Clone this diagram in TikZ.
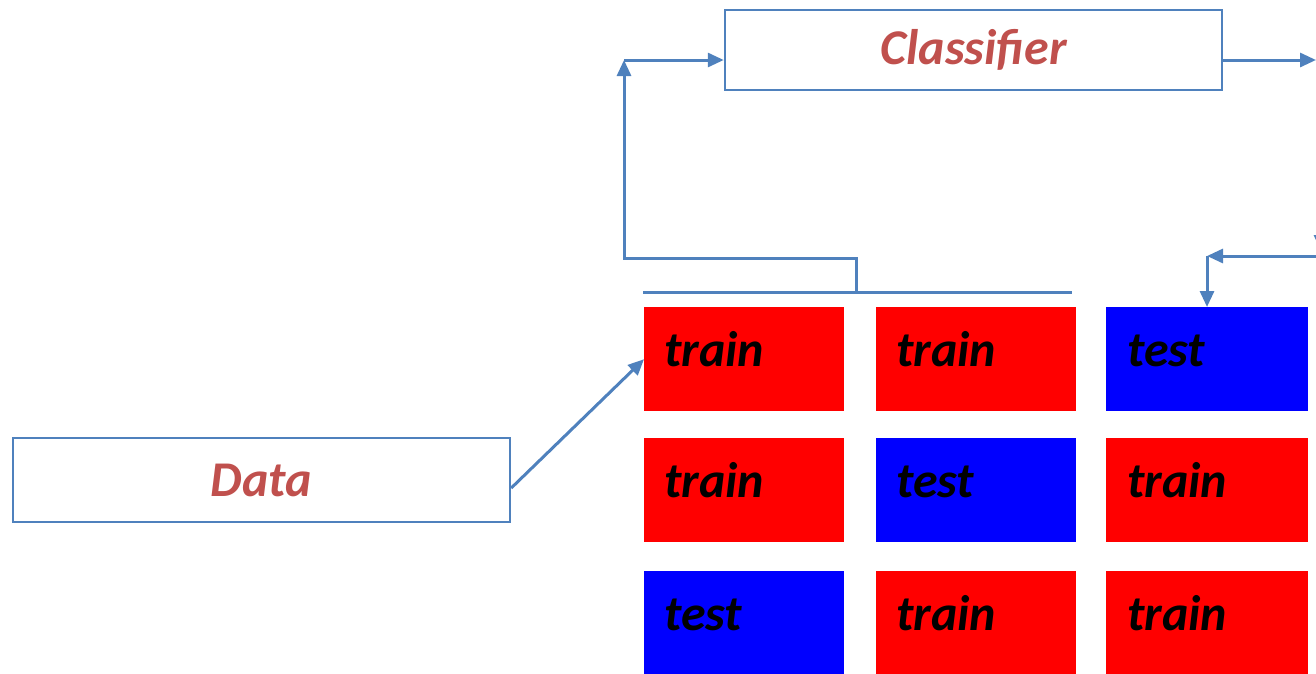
\documentclass[tikz,border=0pt]{standalone}
\usepackage{fontspec}
\setmainfont{Carlito}
\usetikzlibrary{arrows.meta}
\definecolor{flowblue}{RGB}{79,129,189}
\definecolor{labelred}{RGB}{192,80,77}
\definecolor{trainred}{RGB}{255,0,0}
\definecolor{testblue}{RGB}{0,0,255}

\tikzset{
    box/.style={draw=flowblue, line width=2.5pt, minimum width=497pt, inner sep=0pt,
        text=labelred, font=\fontsize{50}{60}\selectfont\bfseries\itshape},
    tile/.style={anchor=north west, minimum width=200pt, minimum height=104pt,
        text width=160pt, inner xsep=20pt, inner ysep=0pt, align=left,
        text height=36pt, text depth=22pt,
        text=black, font=\fontsize{50}{60}\selectfont\bfseries\itshape},
    train/.style={tile, fill=trainred},
    test/.style={tile, fill=testblue},
    wire/.style={flowblue, line width=3pt},
    flow/.style={wire, -{Triangle[length=16pt,width=14pt]}}
}

\begin{document}
\begin{tikzpicture}[x=1pt,y=-1pt]
    \useasboundingbox (0,0) rectangle (1316,673);
    \clip (0,0) rectangle (1316,673);

    % boxes
    \node[box, minimum height=80pt] (clf) at (973.5,50) {Classifier};
    \node[box, minimum height=84pt] (data) at (261.5,480) {Data};

    % folds
    \node[train] (t11) at (644,307) {train};
    \node[train] (t12) at (876,307) {train};
    \node[test, minimum width=202pt]  (t13) at (1106,307) {test};
    \node[train] (t21) at (644,438) {train};
    \node[test]  (t22) at (876,438) {test};
    \node[train, minimum width=202pt] (t23) at (1106,438) {train};
    \node[test]  (t31) at (644,571) {test};
    \node[train] (t32) at (876,571) {train};
    \node[train, minimum width=202pt] (t33) at (1106,571) {train};

    \coordinate (barL) at (643,292);
    \coordinate (barR) at (1072,292);
    \coordinate (barM) at (856,292);
    \coordinate (turn) at (624,60);
    \coordinate (outR) at (1316,60);
    \coordinate (backR) at (1321,256);
    \coordinate (backL) at (1207,256);

    % connectors
    \draw[flow] ([yshift=-8pt]data.east) -- (t11.west);
    \draw[wire] (barL) -- (barR);
    \draw[flow] (barM) |- (624,258) -- (turn);
    \draw[flow] (turn) -- (clf.west |- turn);
    \draw[flow] (clf.east |- turn) -- (outR);
    \draw[flow] (1321,200) -- (1321,251);
    \draw[flow] (backR) -- (backL);
    \draw[flow] (backL) -- (backL |- t13.north);
\end{tikzpicture}
\end{document}
